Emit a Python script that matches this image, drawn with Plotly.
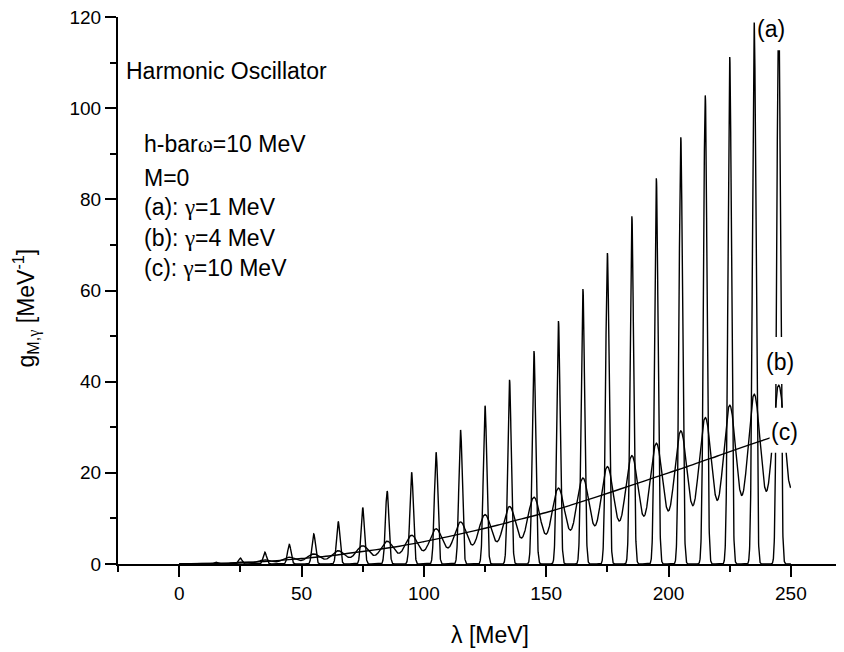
import numpy as np
import plotly.graph_objects as go

# ---------------- data ----------------
# oscillator level positions (MeV) and peak heights of the smeared densities
level_energy = [5, 15, 25, 35, 45, 55, 65, 75, 85, 95, 105, 115, 125, 135, 145,
                155, 165, 175, 185, 195, 205, 215, 225, 235, 245, 255]
peak_a = [0.0, 0.4, 1.3, 2.6, 4.3, 6.6, 9.3, 12.4, 16.0, 20.1, 24.5, 29.4, 34.7,
          40.4, 46.7, 53.3, 60.3, 68.2, 76.3, 84.6, 93.6, 102.8, 111.2, 118.8, 126.0, 133.0]
peak_b = [0.0, 0.1, 0.5, 0.9, 1.5, 2.2, 2.9, 4.0, 5.0, 6.3, 7.7, 9.2, 10.8,
          12.6, 14.6, 16.6, 18.8, 21.3, 23.7, 26.4, 29.1, 32.0, 34.7, 37.1, 39.1, 41.0]
gamma_a = 1.0   # MeV (curve a)
gamma_b = 4.0   # MeV (curve b)

# curve (c), gamma = 10 MeV : smooth values
lam_c = [0, 10, 20, 30, 40, 50, 60, 70, 80, 90, 100, 110, 120, 130, 140, 150,
         160, 170, 180, 190, 200, 210, 220, 230, 240, 250]
g_c = [0.0, 0.02, 0.15, 0.4, 0.75, 1.2, 1.7, 2.4, 3.1, 3.9, 4.9, 6.0, 7.2, 8.5,
       9.9, 11.3, 12.9, 14.6, 16.4, 18.2, 20.0, 21.8, 23.7, 25.6, 27.4, 29.2]

x_ticks = [0, 50, 100, 150, 200, 250]
y_ticks = [0, 20, 40, 60, 80, 100, 120]

# ---------------- build curves ----------------
lam = np.arange(0.0, 250.0001, 0.05)
E = np.array(level_energy)[:, None]


def smeared(heights, width):
    return (np.array(heights)[:, None] * np.exp(-((lam[None, :] - E) / width) ** 2)).sum(axis=0)


g_a = smeared(peak_a, gamma_a)
g_b = smeared(peak_b, gamma_b)

FONT = "Liberation Sans, Arial, Helvetica, sans-serif"
GR = "<span style=\"font-family:'Liberation Serif'\">{}</span>"
gam = GR.format("γ")
omg = GR.format("ω")
line_style = dict(color="black", width=1.4)

fig = go.Figure()
fig.add_trace(go.Scatter(x=lam, y=g_a, mode="lines", line=line_style, name="(a)"))
fig.add_trace(go.Scatter(x=lam, y=g_b, mode="lines", line=line_style, name="(b)"))
fig.add_trace(go.Scatter(x=lam_c, y=g_c, mode="lines",
                         line=dict(color="black", width=1.4, shape="spline"), name="(c)"))

# white boxes behind the curve labels
for x0, x1, y0, y1 in [(236.5, 253.6, 112.7, 120.0),
                       (239.4, 251.6, 39.5, 49.8),
                       (241.3, 258.0, 24.4, 34.3)]:
    fig.add_shape(type="rect", xref="x", yref="y", x0=x0, x1=x1, y0=y0, y1=y1,
                  fillcolor="white", line=dict(width=0), layer="above")

ann_font = dict(family=FONT, size=23, color="black")
fig.add_annotation(x=241.8, y=117.3, text="(a)", showarrow=False, font=ann_font)
fig.add_annotation(x=245.5, y=44.4, text="(b)", showarrow=False, font=ann_font)
fig.add_annotation(x=247.5, y=28.9, text="(c)", showarrow=False, font=ann_font)

fig.add_annotation(x=-22.6, y=108.2, text="Harmonic Oscillator", showarrow=False,
                   xanchor="left", font=ann_font)
info_lines = ["h-bar" + omg + "=10 MeV", "M=0", "(a): " + gam + "=1 MeV",
              "(b): " + gam + "=4 MeV", "(c): " + gam + "=10 MeV"]
info_y = [92.2, 84.7, 78.3, 71.6, 65.0]
for t, yy in zip(info_lines, info_y):
    fig.add_annotation(x=-15.2, y=yy, text=t, showarrow=False, xanchor="left", font=ann_font)

# axis titles
fig.add_annotation(xref="paper", yref="paper", x=0.512, y=-0.157, text="λ [MeV]",
                   showarrow=False, font=ann_font)
fig.add_annotation(xref="paper", yref="paper", x=-0.153, y=0.468,
                   text="g<sub>M," + gam + "</sub> [MeV<sup>-1</sup>]", textangle=-90,
                   showarrow=False, font=ann_font)

axis_common = dict(showgrid=False, zeroline=False, showline=True, linecolor="black", linewidth=2,
                   ticks="outside", ticklen=11, tickwidth=2, tickcolor="black",
                   ticklabeloverflow="allow",
                   tickfont=dict(family=FONT, size=19, color="black"), mirror=False)

fig.update_xaxes(range=[-25, 271.7], tickvals=x_ticks,
                 minor=dict(ticks="outside", ticklen=6, tickwidth=2, tickcolor="black", dtick=25, tick0=0),
                 **axis_common)
fig.update_yaxes(range=[0, 120], tickvals=y_ticks,
                 minor=dict(ticks="outside", ticklen=6, tickwidth=2, tickcolor="black", dtick=10, tick0=0),
                 **axis_common)

fig.update_layout(width=836, height=644, margin=dict(l=110, r=0, t=9, b=88),
                  paper_bgcolor="white", plot_bgcolor="white", showlegend=False,
                  font=dict(family=FONT, color="black"))

fig.write_html("out.html")
